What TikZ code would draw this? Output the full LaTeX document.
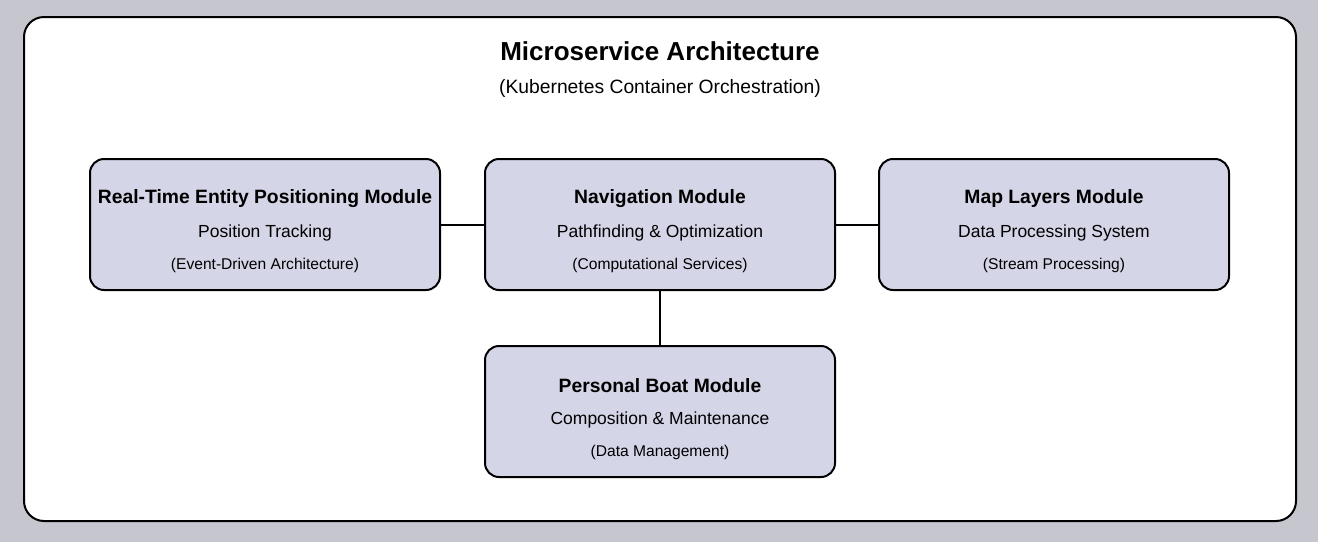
\documentclass[tikz,border=0pt]{standalone}
\usepackage{fontspec}
\setmainfont{Liberation Sans}
\definecolor{bggray}{HTML}{C6C6CE}
\definecolor{boxfill}{HTML}{D5D5E8}
\begin{document}
\begin{tikzpicture}[x=1pt,y=-1pt,
  mod/.style={draw=black,line width=2pt,fill=boxfill,rounded corners=14pt,minimum width=350pt,minimum height=131pt,inner sep=0pt},
  conn/.style={draw=black,line width=2pt},
  ttl/.style={font=\fontsize{19.3}{23}\selectfont\bfseries},
  sub/.style={font=\fontsize{17.5}{21}\selectfont},
  sm/.style={font=\fontsize{15.6}{19}\selectfont}]
\fill[bggray] (0,0) rectangle (1318,542);
\useasboundingbox (0,0) rectangle (1318,542);
\draw[line width=2pt,fill=white,rounded corners=20pt] (24,17) rectangle (1296,521);
\node[font=\fontsize{26}{31}\selectfont\bfseries] (title) at (660,51) {Microservice Architecture};
\node[font=\fontsize{19.3}{23}\selectfont] (subtitle) at (660,88.5) {(Kubernetes Container Orchestration)};
\node[mod] (rt) at (265,224.5) {};
\node[mod] (nav) at (660,224.5) {};
\node[mod] (map) at (1054,224.5) {};
\node[mod] (boat) at (660,411.5) {};
\foreach \n/\a/\b/\c in {rt/Real-Time Entity Positioning Module/Position Tracking/(Event-Driven Architecture),
  nav/Navigation Module/Pathfinding \& Optimization/(Computational Services),
  map/Map Layers Module/Data Processing System/(Stream Processing),
  boat/Personal Boat Module/Composition \& Maintenance/(Data Management)}{
  \node[ttl] (\n-t) at ([yshift=26pt]\n.center) {\a};
  \node[sub] (\n-s) at ([yshift=-8pt]\n.center) {\b};
  \node[sm] (\n-c) at ([yshift=-41pt]\n.center) {\c};
}
\draw[conn] (rt.east) -- (nav.west);
\draw[conn] (nav.east) -- (map.west);
\draw[conn] (nav.south) -- (boat.north);
\end{tikzpicture}
\end{document}
